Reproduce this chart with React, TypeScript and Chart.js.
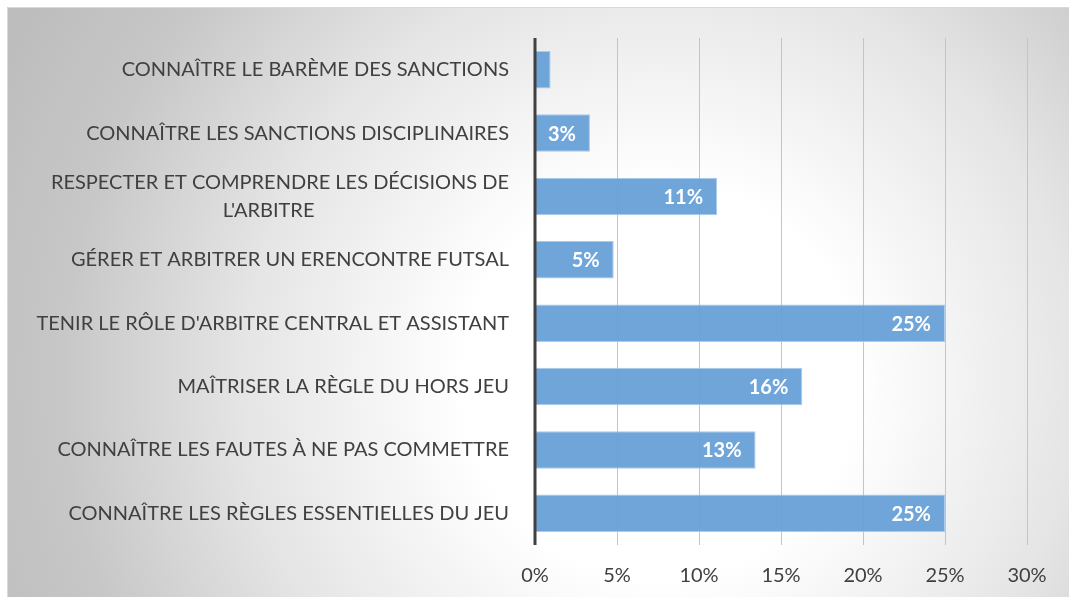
import React, { useEffect, useRef } from "react";
import { Chart, registerables } from "chart.js";

Chart.register(...registerables);

const categories: (string | string[])[] = [
  "CONNAÎTRE LE BARÈME DES SANCTIONS",
  "CONNAÎTRE LES SANCTIONS DISCIPLINAIRES",
  ["RESPECTER ET COMPRENDRE LES DÉCISIONS DE", "L'ARBITRE"],
  "GÉRER ET ARBITRER UN ERENCONTRE FUTSAL",
  "TENIR LE RÔLE D'ARBITRE CENTRAL ET ASSISTANT",
  "MAÎTRISER LA RÈGLE DU HORS JEU",
  "CONNAÎTRE LES FAUTES À NE PAS COMMETTRE",
  "CONNAÎTRE LES RÈGLES ESSENTIELLES DU JEU",
];

const values: number[] = [0.95, 3.35, 11.1, 4.8, 25, 16.3, 13.45, 25];

const xTicks: number[] = [0, 5, 10, 15, 20, 25, 30];

const FONT = "Lato, 'Open Sans', sans-serif";

export default function App() {
  const ref = useRef<HTMLCanvasElement | null>(null);

  useEffect(() => {
    const canvas = ref.current;
    if (!canvas) return;

    const bgPlugin = {
      id: "bg",
      beforeDraw(chart: any) {
        const { ctx, width, height } = chart;
        ctx.save();
        const cx = 653;
        const cy = 373;
        const g = ctx.createRadialGradient(cx, cy, 0, cx, cy, 730);
        g.addColorStop(0, "#ffffff");
        g.addColorStop(0.27, "#ffffff");
        g.addColorStop(0.57, "#e5e5e5");
        g.addColorStop(0.82, "#c7c7c7");
        g.addColorStop(1, "#bdbdbd");
        ctx.fillStyle = g;
        ctx.fillRect(0, 0, width, height);
        ctx.strokeStyle = "#d9d9d9";
        ctx.lineWidth = 1;
        ctx.beginPath();
        ctx.moveTo(0.5, height);
        ctx.lineTo(0.5, 0.5);
        ctx.lineTo(width, 0.5);
        ctx.stroke();
        ctx.restore();
      },
    };

    const labelPlugin = {
      id: "barLabels",
      afterDatasetsDraw(chart: any) {
        const { ctx } = chart;
        const meta = chart.getDatasetMeta(0);
        ctx.save();
        ctx.fillStyle = "#ffffff";
        ctx.font = `bold 20px ${FONT}`;
        ctx.textAlign = "right";
        ctx.textBaseline = "middle";
        meta.data.forEach((bar: any, i: number) => {
          const v = values[i];
          if (v < 2) return;
          ctx.fillText(`${Math.round(v)}%`, bar.x - 14, bar.y + 1);
        });
        ctx.restore();
      },
    };

    const axisLinePlugin = {
      id: "axisLine",
      afterDatasetsDraw(chart: any) {
        const { ctx, chartArea } = chart;
        const x = chart.scales.x.getPixelForValue(0);
        ctx.save();
        ctx.strokeStyle = "#404040";
        ctx.lineWidth = 3;
        ctx.beginPath();
        ctx.moveTo(x, chartArea.top);
        ctx.lineTo(x, chartArea.bottom);
        ctx.stroke();
        ctx.restore();
      },
    };

    const chart = new Chart(canvas, {
      type: "bar",
      data: {
        labels: categories,
        datasets: [
          {
            data: values,
            backgroundColor: "rgba(104,160,216,0.95)",
            borderColor: "#a9cbec",
            borderWidth: 1,
            categoryPercentage: 0.59,
            barPercentage: 1,
          },
        ],
      },
      options: {
        indexAxis: "y",
        animation: false,
        responsive: false,
        maintainAspectRatio: false,
        layout: { padding: { top: 31, right: 42, left: 0, bottom: 0 } },
        plugins: {
          legend: { display: false },
          tooltip: { enabled: false },
        },
        scales: {
          x: {
            min: 0,
            max: 30,
            afterBuildTicks(scale: any) {
              scale.ticks = xTicks.map((v) => ({ value: v }));
            },
            afterFit(scale: any) {
              scale.height = 52;
              scale.paddingLeft = 0;
              scale.paddingRight = 0;
            },
            grid: {
              color: "#c4c4c4",
              lineWidth: 1,
              drawTicks: false,
            },
            border: { display: false },
            ticks: {
              padding: 19,
              color: "#404040",
              font: { family: FONT, size: 20 },
              callback: (v: any) => `${v}%`,
            },
          },
          y: {
            afterFit(scale: any) {
              scale.width = 528;
              scale.paddingTop = 0;
              scale.paddingBottom = 0;
            },
            grid: { display: false, drawTicks: false },
            border: { display: false },
            ticks: {
              padding: 26,
              color: "#404040",
              font: { family: FONT, size: 20, lineHeight: 1.4 },
              autoSkip: false,
              callback: (_v: any, i: number) => {
                const c = categories[i];
                if (Array.isArray(c)) {
                  return [c[0], c[1] + "\u00a0".repeat(38)];
                }
                return c;
              },
            },
          },
        },
      },
      plugins: [bgPlugin, labelPlugin, axisLinePlugin],
    });

    return () => chart.destroy();
  }, []);

  return (
    <div style={{ position: "fixed", left: 7, top: 7, width: 1062, height: 590 }}>
      <canvas ref={ref} width={1062} height={590} style={{ display: "block" }} />
    </div>
  );
}
